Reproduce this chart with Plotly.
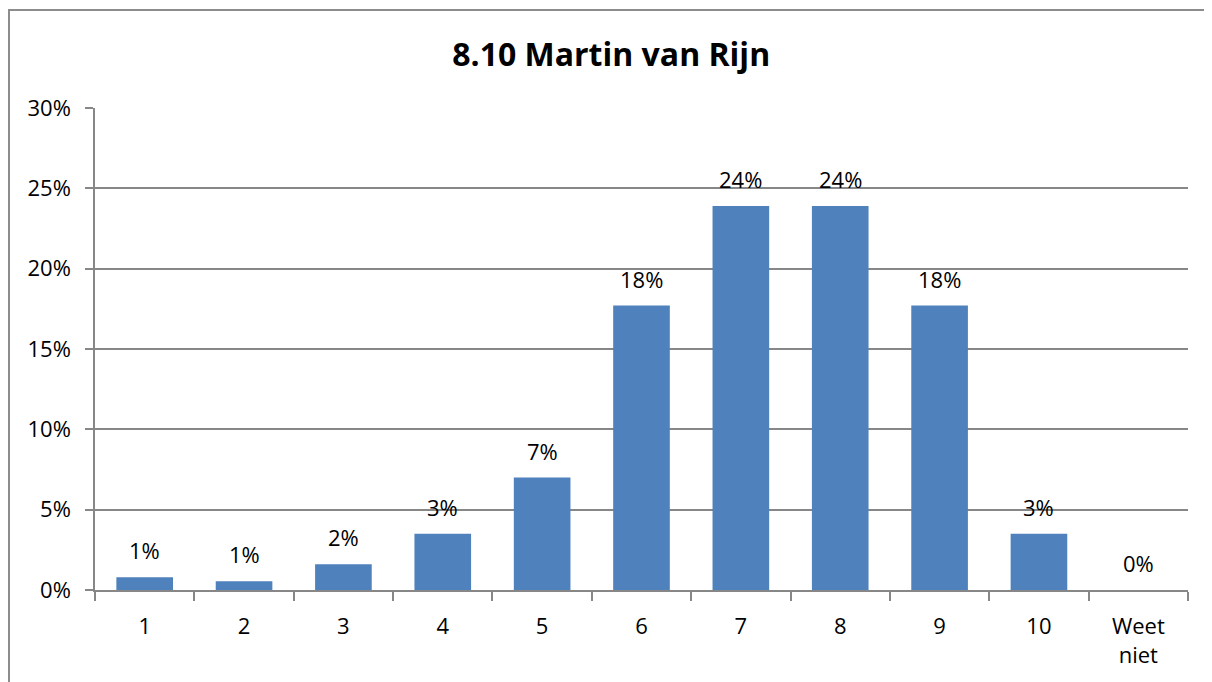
import plotly.graph_objects as go

# Data
categories = ['1', '2', '3', '4', '5', '6', '7', '8', '9', '10', 'Weet<br>niet']
values = [0.008, 0.0055, 0.016, 0.035, 0.07, 0.177, 0.239, 0.239, 0.177, 0.035, 0.0]
labels = ['1%', '1%', '2%', '3%', '7%', '18%', '24%', '24%', '18%', '3%', '0%']
y_ticks = [0, 0.05, 0.10, 0.15, 0.20, 0.25, 0.30]

font_name = 'Open Sans, Lato, sans-serif'
grid_grey = '#878787'

fig = go.Figure()
fig.add_trace(go.Bar(
    x=categories,
    y=values,
    marker=dict(color='#4F81BD', line=dict(width=0)),
    width=0.57,
    hoverinfo='skip',
))

# Data labels above each bar (x given as category index)
for i, (val, lab) in enumerate(zip(values, labels)):
    fig.add_annotation(
        x=i, y=val, text=lab, showarrow=False,
        yanchor='bottom', yshift=10,
        font=dict(family=font_name, size=22, color='#000000'),
    )

# Outer chart border (runs off the right and bottom edges like the reference)
fig.add_shape(
    type='rect', xref='paper', yref='paper',
    x0=-0.0787, x1=1.2, y0=-0.3, y1=1.2033,
    line=dict(color='#8c8c8c', width=2), fillcolor='rgba(0,0,0,0)',
    layer='below',
)

fig.update_layout(
    width=1204, height=674,
    margin=dict(l=87, r=24, t=100, b=92),
    paper_bgcolor='white',
    plot_bgcolor='white',
    showlegend=False,
    title=dict(
        text='<b>8.10 Martin van Rijn</b>',
        x=0.501, xanchor='center',
        y=1 - 47 / 674, yanchor='middle',
        font=dict(family=font_name, size=32, color='#000000'),
    ),
    font=dict(family=font_name, size=22, color='#000000'),
)

fig.update_xaxes(
    type='category', automargin=False,
    showline=True, linecolor=grid_grey, linewidth=1.5,
    ticks='outside', ticklen=9, tickcolor=grid_grey, tickwidth=1.5,
    tickson='boundaries', ticklabelstandoff=16,
    showgrid=False,
    tickfont=dict(family=font_name, size=22, color='#000000'),
)

fig.update_yaxes(
    range=[0, 0.3], automargin=False,
    tickvals=y_ticks,
    tickformat='.0%',
    showline=True, linecolor=grid_grey, linewidth=1.5,
    ticks='outside', ticklen=8, tickcolor=grid_grey, tickwidth=1.5,
    ticklabelstandoff=10,
    showgrid=True, gridcolor=grid_grey, gridwidth=1.5,
    zeroline=False,
    tickfont=dict(family=font_name, size=22, color='#000000'),
)

fig.write_html("out.html")
